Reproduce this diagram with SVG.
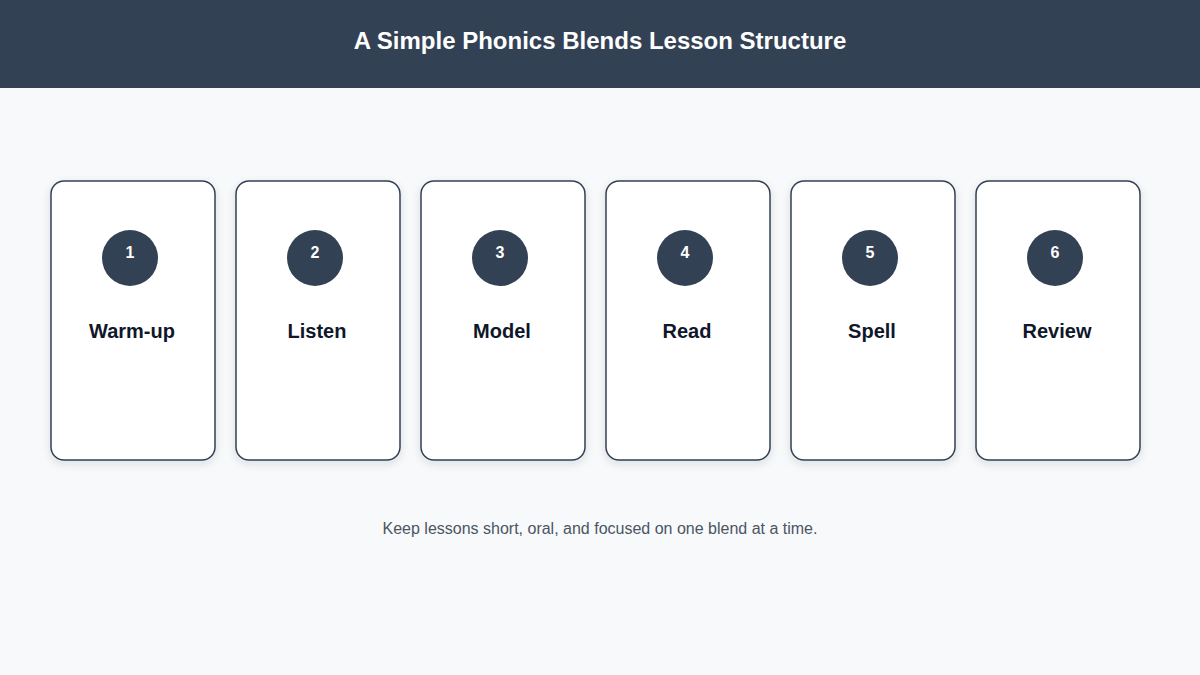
<svg xmlns="http://www.w3.org/2000/svg" width="1200" height="675" viewBox="0 0 1200 675">
<defs>
<filter id="sh" x="-20%" y="-20%" width="140%" height="140%">
<feDropShadow dx="0" dy="3" stdDeviation="4" flood-color="#1e293b" flood-opacity="0.12"/>
</filter>
<style>
.card{fill:#ffffff;stroke:#334155;stroke-width:1.5;filter:url(#sh)}
.badge{fill:#334155}
.num{font-family:"Liberation Sans",Arial,sans-serif;font-size:16px;font-weight:bold;fill:#ffffff;text-anchor:middle}
.lbl{font-family:"Liberation Sans",Arial,sans-serif;font-size:20px;font-weight:bold;fill:#0f172a;text-anchor:middle}
</style>
</defs>
<rect width="1200" height="675" fill="#f8f9fb"/>
<rect width="1200" height="88" fill="#334155"/>
<text x="600" y="49" font-family="'Liberation Sans',Arial,sans-serif" font-size="24" font-weight="bold" fill="#ffffff" text-anchor="middle">A Simple Phonics Blends Lesson Structure</text>
<g id="connectors"></g>
<g id="node1"><rect class="card" x="51" y="181" width="164" height="279" rx="13"/><circle class="badge" cx="130" cy="258" r="28"/><text class="num" x="130" y="258">1</text><text class="lbl" x="132" y="338">Warm-up</text></g>
<g id="node2"><rect class="card" x="236" y="181" width="164" height="279" rx="13"/><circle class="badge" cx="315" cy="258" r="28"/><text class="num" x="315" y="258">2</text><text class="lbl" x="317" y="338">Listen</text></g>
<g id="node3"><rect class="card" x="421" y="181" width="164" height="279" rx="13"/><circle class="badge" cx="500" cy="258" r="28"/><text class="num" x="500" y="258">3</text><text class="lbl" x="502" y="338">Model</text></g>
<g id="node4"><rect class="card" x="606" y="181" width="164" height="279" rx="13"/><circle class="badge" cx="685" cy="258" r="28"/><text class="num" x="685" y="258">4</text><text class="lbl" x="687" y="338">Read</text></g>
<g id="node5"><rect class="card" x="791" y="181" width="164" height="279" rx="13"/><circle class="badge" cx="870" cy="258" r="28"/><text class="num" x="870" y="258">5</text><text class="lbl" x="872" y="338">Spell</text></g>
<g id="node6"><rect class="card" x="976" y="181" width="164" height="279" rx="13"/><circle class="badge" cx="1055" cy="258" r="28"/><text class="num" x="1055" y="258">6</text><text class="lbl" x="1057" y="338">Review</text></g>
<text x="600" y="534" font-family="'Liberation Sans',Arial,sans-serif" font-size="16" fill="#4b5563" text-anchor="middle">Keep lessons short, oral, and focused on one blend at a time.</text>
</svg>
